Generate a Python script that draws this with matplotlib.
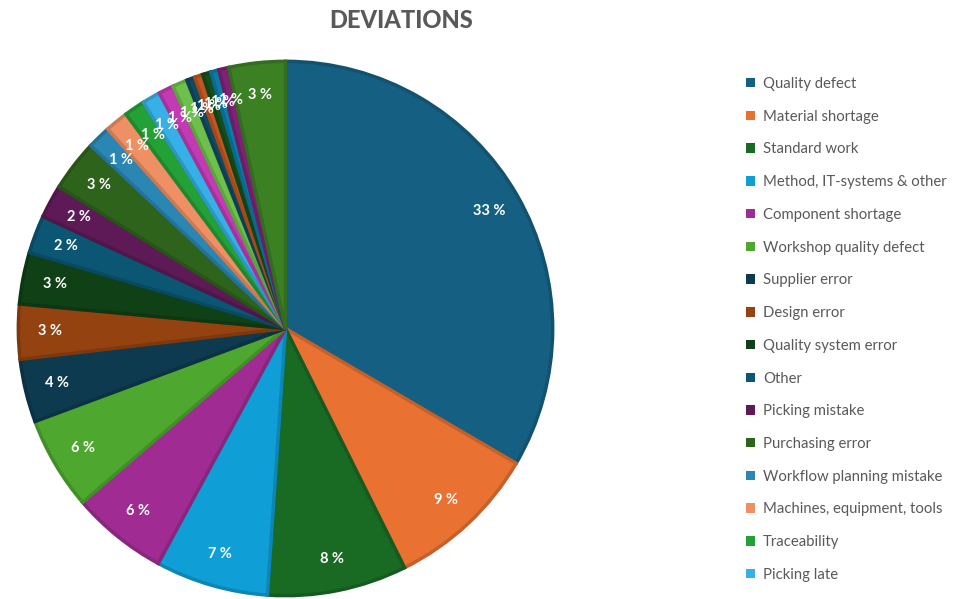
import matplotlib.pyplot as plt
import matplotlib.colors as mcolors

# categories shown in the legend (first 16 slices)
categories = [
    "Quality defect", "Material shortage", "Standard work",
    "Method, IT-systems & other", "Component shortage",
    "Workshop quality defect", "Supplier error", "Design error",
    "Quality system error", "Other", "Picking mistake", "Purchasing error",
    "Workflow planning mistake", "Machines, equipment, tools",
    "Traceability", "Picking late",
]
# share of deviations (%) per category
shares = [33.3, 9.2, 8.4, 6.8, 5.8, 5.6, 3.8, 3.3, 3.1, 2.3, 2.0, 3.1,
          1.4, 1.4, 1.25, 1.1]
# remaining slices that do not fit in the legend
minor_shares = [0.9, 0.9, 0.5, 0.5, 0.5, 0.5, 0.6, 3.4]

slice_colors = [
    "#156082", "#E97132", "#196B24", "#0F9ED5", "#A02B93", "#4EA72E",
    "#0D3A4F", "#94420F", "#0F4016", "#0B5672", "#5E1A57", "#2E631B",
    "#2A86B3", "#EE9063", "#23A036", "#36B0E6", "#C23AB4", "#6DC04A",
    "#104A63", "#C2561F", "#134F1B", "#0C7BA8", "#7F2275", "#3C8024",
]

values = shares + minor_shares
edge_colors = [tuple(c * 0.85 for c in mcolors.to_rgb(col)) for col in slice_colors]

plt.rcParams['font.family'] = ['Lato', 'DejaVu Sans']

fig = plt.figure(figsize=(9.58, 5.99), dpi=100)
ax = fig.add_axes([17 / 958, 2 / 599, 537 / 958, 537 / 599])

wedges, texts, autotexts = ax.pie(
    values, colors=slice_colors, startangle=90, counterclock=False,
    radius=1, pctdistance=0.88,
    autopct=lambda p: f"{p:.0f} %",
    wedgeprops=dict(linewidth=2.5, linestyle='-'),
    textprops=dict(color='white', fontsize=10.5, fontweight='bold'),
)
for w, ec in zip(wedges, edge_colors):
    w.set_edgecolor(ec)
ax.set_xlim(-1.005, 1.005)
ax.set_ylim(-1.005, 1.005)
ax.set_aspect('equal')

fig.text(401 / 958, 1 - 20 / 599, "DEVIATIONS", ha='center', va='center',
         fontsize=17, fontweight='black', color='#595959')

leg = fig.legend(
    wedges[:len(categories)], categories,
    loc='upper left', bbox_to_anchor=(746 / 958, 1 - 77 / 599),
    frameon=False, fontsize=10.7, labelcolor='#595959',
    handlelength=0.6, handleheight=0.6, handletextpad=0.55,
    labelspacing=1.26, borderaxespad=0, borderpad=0,
)
for h, col in zip(leg.legend_handles, slice_colors):
    h.set_edgecolor(col)
    h.set_linewidth(0)

fig.savefig("out.png", dpi=100)
